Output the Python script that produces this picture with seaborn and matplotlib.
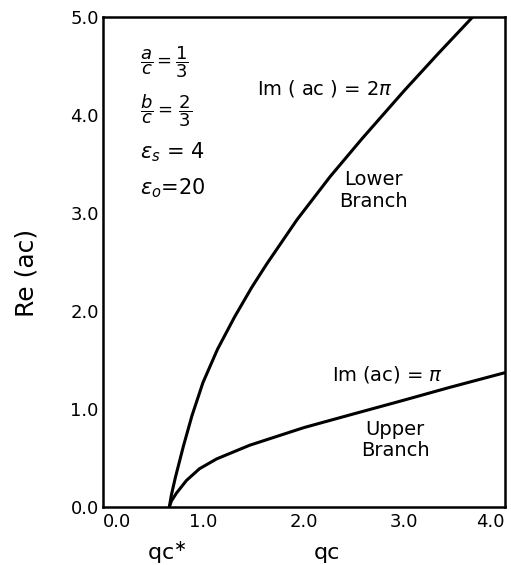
import numpy as np
import pandas as pd
import matplotlib
matplotlib.use("Agg")
import matplotlib.pyplot as plt
import seaborn as sns

# Im(ac) = 2*pi  (lower branch)
lower_qc = [0.66, 0.68, 0.72, 0.80, 0.885, 0.995, 1.14, 1.31, 1.48, 1.63,
            1.93, 2.26, 2.58, 3.00, 3.34, 3.68]
lower_re = [0.0, 0.12, 0.30, 0.62, 0.93, 1.27, 1.61, 1.94, 2.24, 2.48,
            2.93, 3.37, 3.76, 4.25, 4.63, 5.0]

# Im(ac) = pi  (upper branch)
upper_qc = [0.66, 0.68, 0.73, 0.83, 0.96, 1.13, 1.46, 1.76, 2.0, 2.46,
            2.96, 3.45, 4.0]
upper_re = [0.0, 0.06, 0.14, 0.27, 0.39, 0.49, 0.63, 0.73, 0.81, 0.94,
            1.08, 1.22, 1.37]

x_ticks = [0.0, 1.0, 2.0, 3.0, 4.0]
y_ticks = [0.0, 1.0, 2.0, 3.0, 4.0, 5.0]
qc_star = 0.63

sns.set_style("white", {"text.color": "black", "axes.labelcolor": "black",
                        "xtick.color": "black", "ytick.color": "black"})
plt.rcParams["font.family"] = ["DejaVu Sans"]
plt.rcParams["mathtext.fontset"] = "dejavusans"

fig = plt.figure(figsize=(5.11, 5.65), dpi=100)
ax = fig.add_axes([0.2016, 0.1027, 0.7864, 0.8673])

lower = pd.DataFrame({"qc": lower_qc, "re": lower_re})
upper = pd.DataFrame({"qc": upper_qc, "re": upper_re})
sns.lineplot(data=lower, x="qc", y="re", ax=ax, color="black", lw=2.2)
sns.lineplot(data=upper, x="qc", y="re", ax=ax, color="black", lw=2.2)

ax.set_xlim(0, 4.0)
ax.set_ylim(0, 5.0)
ax.set_xticks(x_ticks)
ax.set_yticks(y_ticks)
ax.set_xticklabels([f"{v:.1f}" for v in x_ticks], fontsize=13)
ax.set_yticklabels([f"{v:.1f}" for v in y_ticks], fontsize=13)
ax.tick_params(direction="in", length=10, width=1.3, color="black",
               labelcolor="black", pad=3)
ax.tick_params(axis="x", pad=4)
xl = ax.get_xticklabels()
xl[0].set_ha("left")
xl[-1].set_ha("right")
for s in ax.spines.values():
    s.set_color("black")
    s.set_linewidth(1.8)
ax.set_xlabel("")
ax.set_ylabel("")

# axis labels
ax.text(-0.19, 0.477, "Re (ac)", transform=ax.transAxes, rotation=90,
        ha="center", va="center", fontsize=18)
tr = ax.get_xaxis_transform()
ax.text(qc_star, -0.094, "qc$^{\\ast}$", transform=tr, ha="center",
        va="center", fontsize=16)
ax.text(2.23, -0.094, "qc", transform=tr, ha="center", va="center",
        fontsize=16)

# parameter block
ax.text(0.37, 4.54, r"$\dfrac{a}{c}=\dfrac{1}{3}$", fontsize=13,
        ha="left", va="center")
ax.text(0.37, 4.04, r"$\dfrac{b}{c}=\,\dfrac{2}{3}$", fontsize=13,
        ha="left", va="center")
ax.text(0.37, 3.62, r"$\epsilon_s$ = 4", fontsize=15, ha="left",
        va="center")
ax.text(0.37, 3.25, r"$\epsilon_o$=20", fontsize=15, ha="left",
        va="center")

# curve annotations
ax.text(1.53, 4.27, r"Im ( ac ) = 2$\pi$", fontsize=14, ha="left",
        va="center")
ax.text(2.69, 3.23, "Lower\nBranch", fontsize=14, ha="center",
        va="center", linespacing=1.15)
ax.text(2.28, 1.35, r"Im (ac) = $\pi$", fontsize=14, ha="left",
        va="center")
ax.text(2.91, 0.68, "Upper\nBranch", fontsize=14, ha="center",
        va="center", linespacing=1.15)

fig.savefig("out.png", dpi=100)
